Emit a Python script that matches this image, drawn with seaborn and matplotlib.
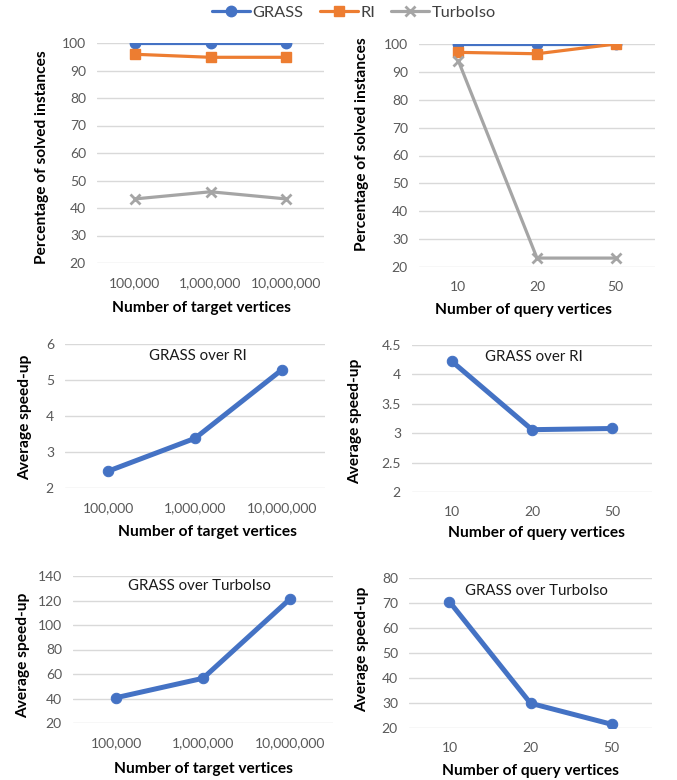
import numpy as np
import pandas as pd
import matplotlib
matplotlib.use('Agg')
import matplotlib.pyplot as plt
import seaborn as sns

# Data

target_sizes = ['100,000', '1,000,000', '10,000,000']
query_sizes = ['10', '20', '50']
algorithms = ['GRASS', 'RI', 'TurboIso']

grass_solved_target = [100, 100, 100]
ri_solved_target = [95.9, 94.8, 94.8]
turbo_solved_target = [43.3, 45.9, 43.3]

grass_solved_query = [100, 100, 100]
ri_solved_query = [97.0, 96.5, 100]
turbo_solved_query = [94.0, 23.2, 23.2]

speedup_ri_target = [2.47, 3.38, 5.28]
speedup_ri_query = [4.22, 3.06, 3.08]
speedup_turbo_target = [40.7, 56.5, 121]
speedup_turbo_query = [70.5, 29.9, 21.5]

colors = {'GRASS': '#4472C4', 'RI': '#ED7D31', 'TurboIso': '#A5A5A5'}
markers = {'GRASS': 'o', 'RI': 's', 'TurboIso': 'x'}

sns.set_theme(style='white')
plt.rcParams['font.family'] = ['Lato', 'DejaVu Sans']

W, H = 677, 780
fig = plt.figure(figsize=(W / 100, H / 100), dpi=100)


def px_rect(x0, y0, x1, y1):
    return [x0 / W, 1 - y1 / H, (x1 - x0) / W, (y1 - y0) / H]


def fig_xy(x, y):
    return x / W, 1 - y / H


def style_axes(ax, yticks, xlabel, ylabel, xlab_pos, ylab_pos):
    sns.despine(ax=ax, left=True, bottom=True)
    ax.set_ylim(yticks[0], yticks[-1])
    ax.set_xlim(-0.5, 2.5)
    ax.set_yticks(yticks)
    ax.set_yticklabels([f'{v:g}' for v in yticks])
    ax.yaxis.grid(True, color='#D9D9D9', linewidth=1)
    ax.xaxis.grid(False)
    ax.set_axisbelow(True)
    ax.tick_params(axis='both', length=0, labelsize=10, labelcolor='#595959')
    ax.tick_params(axis='y', pad=8)
    ax.tick_params(axis='x', pad=10)
    ax.set_xlabel(xlabel, fontsize=11.2, fontweight='bold', color='black')
    ax.set_ylabel(ylabel, fontsize=11.2, fontweight='bold', color='black')
    ax.xaxis.set_label_coords(*fig_xy(*xlab_pos), transform=fig.transFigure)
    ax.yaxis.set_label_coords(*fig_xy(*ylab_pos), transform=fig.transFigure)
    ax.xaxis.label.set_va('center')
    ax.yaxis.label.set_va('center')


def solved_panel(ax, cats, series):
    for name, vals in zip(algorithms, series):
        df = pd.DataFrame({'size': cats, 'pct': vals})
        mew = 2 if markers[name] == 'x' else 1
        sns.lineplot(data=df, x='size', y='pct', ax=ax, sort=False, color=colors[name],
                     marker=markers[name], markersize=7.5, linewidth=2.3,
                     markeredgecolor=colors[name], markeredgewidth=mew, label=name)
    ax.get_legend().remove()


def speedup_panel(ax, cats, vals, title, title_pos):
    df = pd.DataFrame({'size': cats, 'speedup': vals})
    sns.lineplot(data=df, x='size', y='speedup', ax=ax, sort=False, color=colors['GRASS'],
                 marker='o', markersize=7.5, linewidth=3.6, markeredgecolor=colors['GRASS'])
    tx, ty = fig_xy(*title_pos)
    fig.text(tx, ty, title, ha='center', va='center', fontsize=10.8, color='#1a1a1a')


# Percentage of solved instances
ax1 = fig.add_axes(px_rect(97, 43, 324, 263))
solved_panel(ax1, target_sizes, [grass_solved_target, ri_solved_target, turbo_solved_target])
style_axes(ax1, list(range(20, 101, 10)), 'Number of target vertices',
           'Percentage of solved instances', (201, 308), (42, 157))

ax2 = fig.add_axes(px_rect(419, 44, 655, 267))
solved_panel(ax2, query_sizes, [grass_solved_query, ri_solved_query, turbo_solved_query])
style_axes(ax2, list(range(20, 101, 10)), 'Number of query vertices',
           'Percentage of solved instances', (523, 310), (362, 144))

# Speed-up over RI
ax3 = fig.add_axes(px_rect(65, 344, 325, 488))
speedup_panel(ax3, target_sizes, speedup_ri_target, 'GRASS over RI', (198, 356))
style_axes(ax3, [2, 3, 4, 5, 6], 'Number of target vertices', 'Average speed-up',
           (207, 532), (25, 417))

ax4 = fig.add_axes(px_rect(412, 345, 652, 492))
speedup_panel(ax4, query_sizes, speedup_ri_query, 'GRASS over RI', (534, 357))
style_axes(ax4, [2, 2.5, 3, 3.5, 4, 4.5], 'Number of query vertices', 'Average speed-up',
           (536, 533), (355, 421))

# Speed-up over TurboIso
ax5 = fig.add_axes(px_rect(73, 576, 333, 723))
speedup_panel(ax5, target_sizes, speedup_turbo_target, 'GRASS over TurboIso', (199, 586))
style_axes(ax5, list(range(20, 141, 20)), 'Number of target vertices', 'Average speed-up',
           (203, 769), (23, 655))

ax6 = fig.add_axes(px_rect(409, 578, 652, 728))
speedup_panel(ax6, query_sizes, speedup_turbo_query, 'GRASS over TurboIso', (536, 591))
style_axes(ax6, list(range(20, 81, 10)), 'Number of query vertices', 'Average speed-up',
           (530, 771), (362, 649))

# Shared legend at the top
handles, labels = ax1.get_legend_handles_labels()
lx, ly = fig_xy(354, 13)
fig.legend(handles, labels, loc='center', bbox_to_anchor=(lx, ly), ncol=3, frameon=False,
           fontsize=11.8, handlelength=2.3, handletextpad=0.15, columnspacing=1.0,
           labelcolor='#404040')

fig.savefig('out.png', dpi=100)
